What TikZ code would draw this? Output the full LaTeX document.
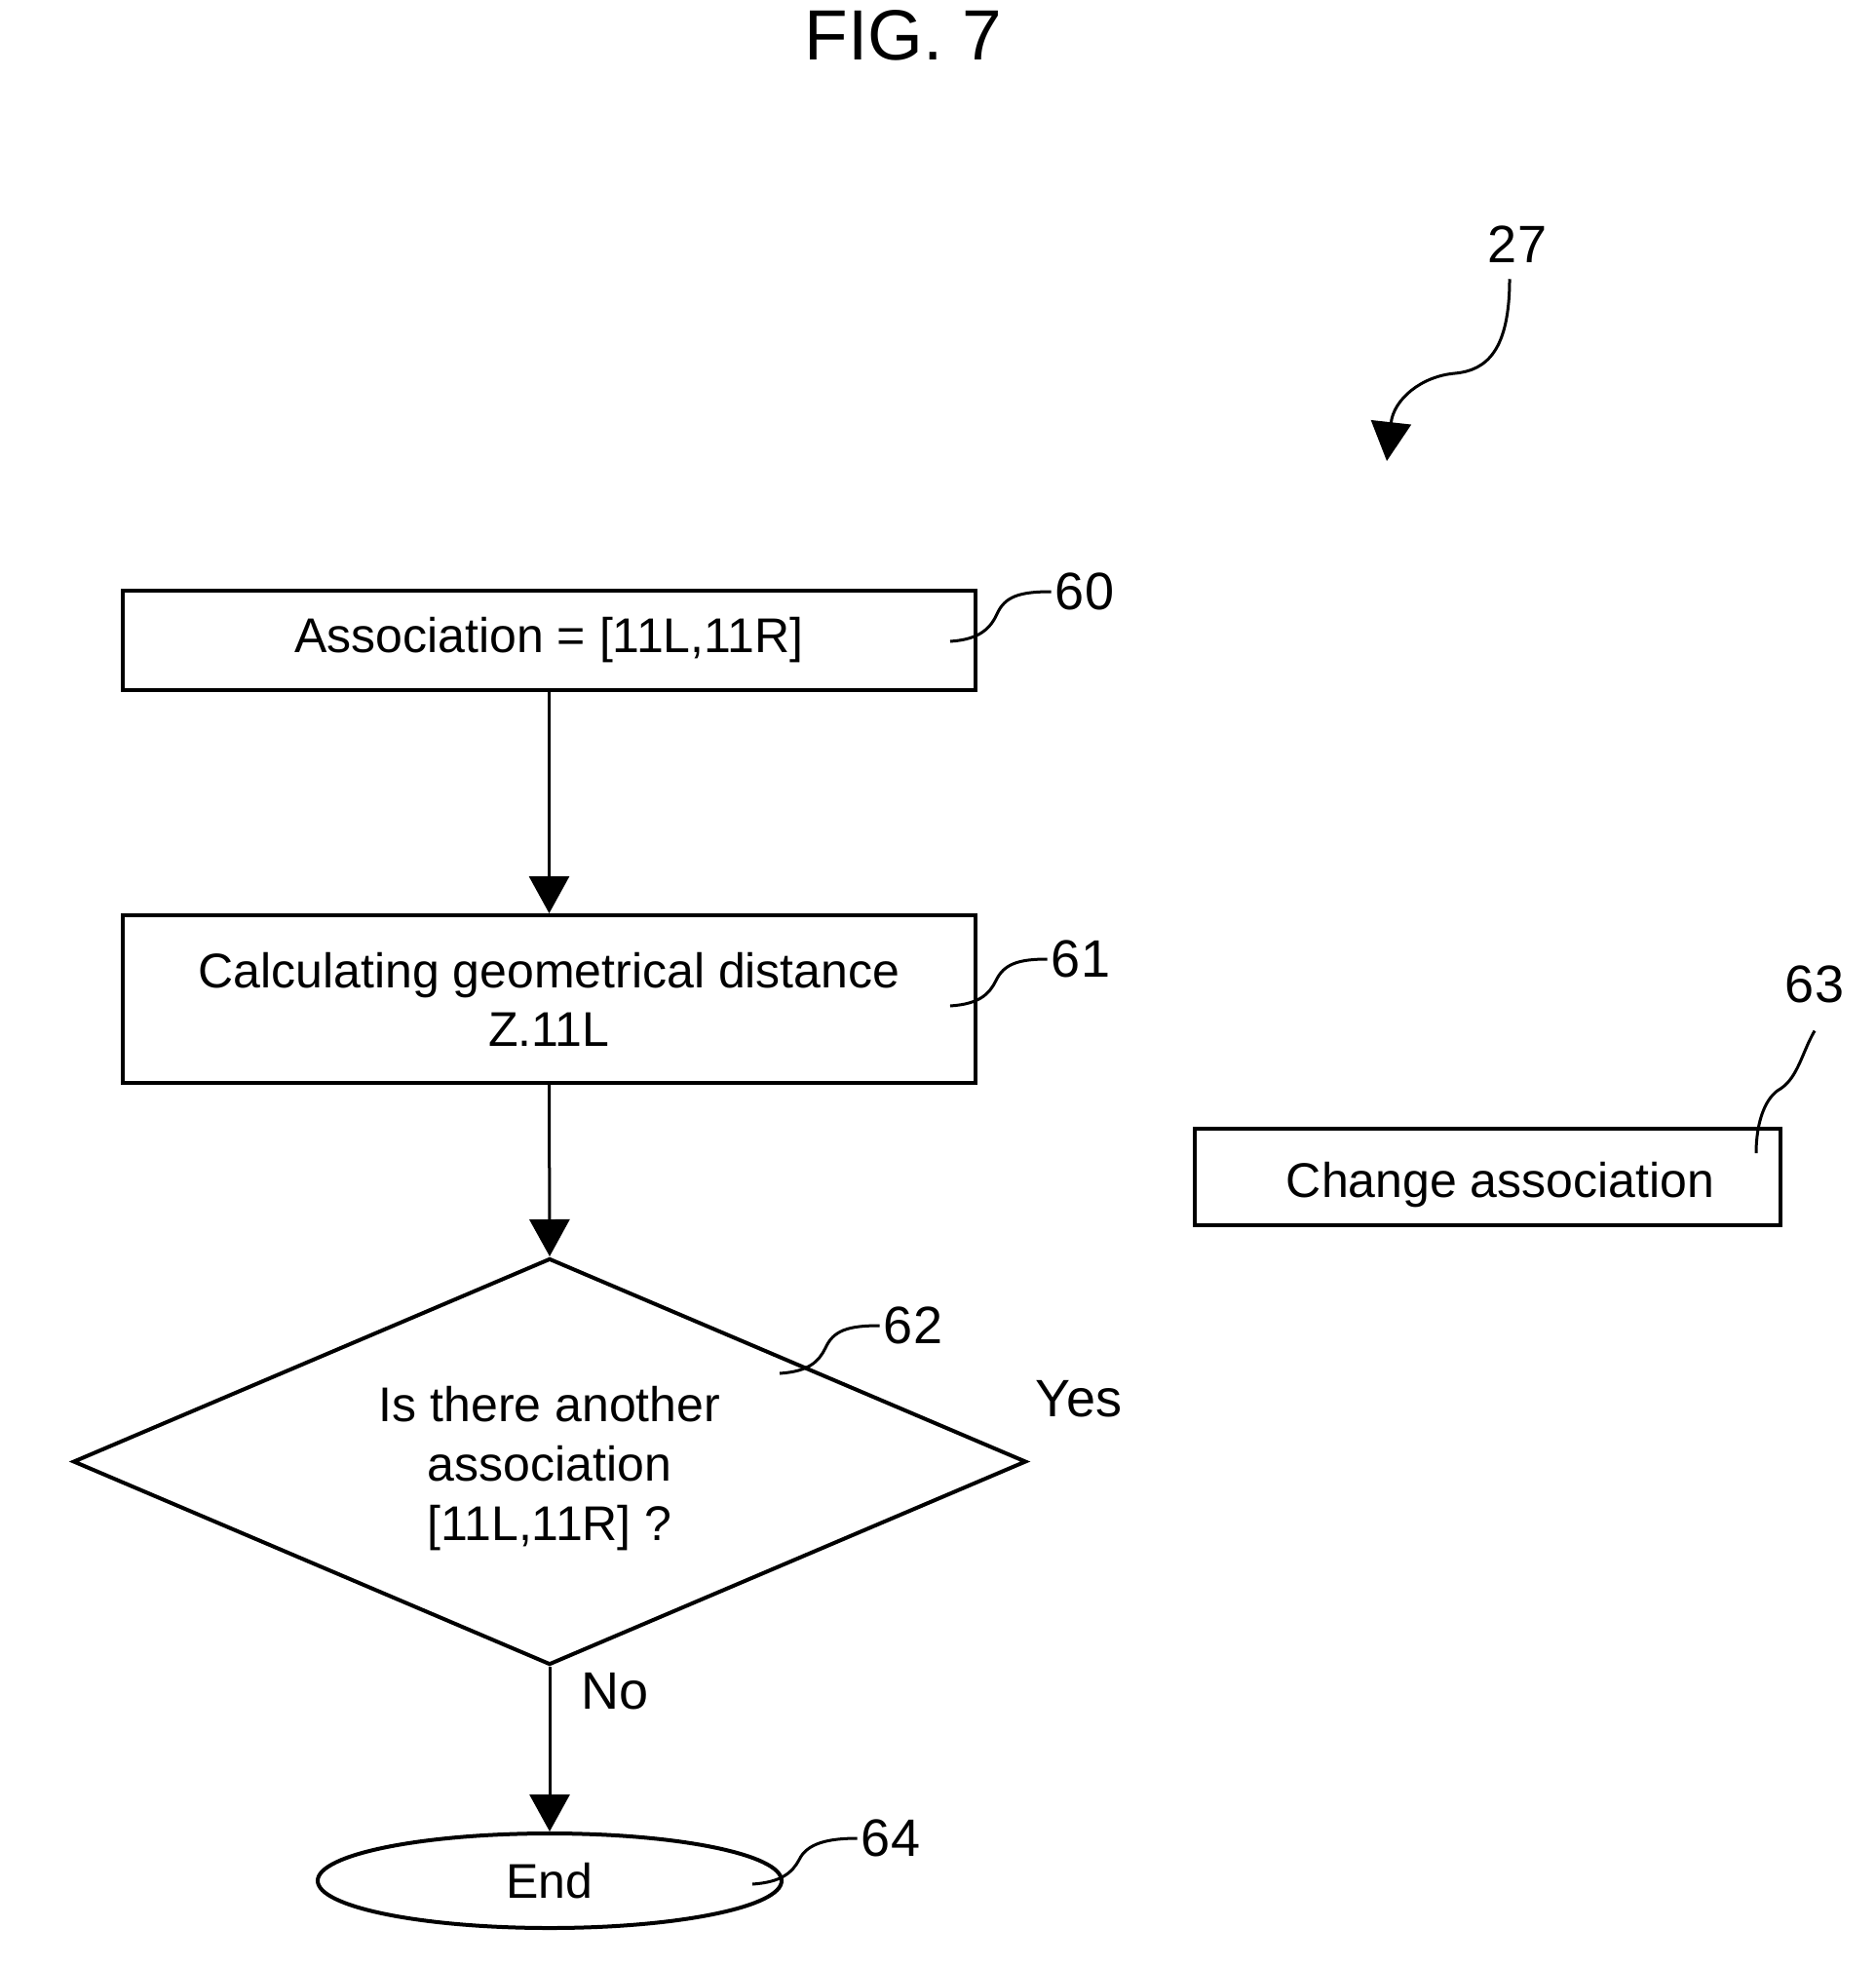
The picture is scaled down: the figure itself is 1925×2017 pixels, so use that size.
\documentclass[tikz,border=0pt]{standalone}
\usepackage{fontspec}
\setmainfont{Liberation Sans}
\usetikzlibrary{arrows.meta,shapes.geometric}
\begin{document}
\begin{tikzpicture}[x=0.5pt,y=-0.5pt,
  box/.style={draw,line width=2pt,inner sep=0pt,font=\fontsize{25}{30}\selectfont,align=center},
  btext/.style={inner sep=0pt,font=\fontsize{25}{30.5}\selectfont,align=center},
  lab/.style={inner sep=2pt,font=\fontsize{27}{32}\selectfont},
  flow/.style={line width=1.5pt,-{Triangle[width=20.5pt,length=19pt]}},
  leader/.style={line width=1.5pt}]
\useasboundingbox (0,0) rectangle (1925,2017);
\node[font=\fontsize{36.5}{40}\selectfont] (title) at (927,36) {FIG. 7};
% reference 27
\node[lab] (lab27) at (1557,251) {27};
\coordinate (tip27) at (1423,473);
\draw[line width=1.5pt,-{Triangle[width=20.5pt,length=20pt]}] ([yshift=-6pt]lab27.south -| 1549,0) .. controls (1549,360) and (1525,380) .. (1493,383) .. controls (1458,386) and (1430,410) .. (tip27);
% boxes
\node[box,minimum width=437.5pt,minimum height=51pt] (b60) at (563.5,657) {Association = [11L,11R]};
\node[box,minimum width=437.5pt,minimum height=86pt] (b61) at (563.5,1025) {Calculating geometrical distance\\Z.11L};
\node[box,diamond,aspect=2.345,minimum width=489pt,minimum height=208.5pt] (d62) at (564,1499.5) {};
\node[btext] (d62t) at (564,1507) {Is there another\\association\\{[}11L,11R{]} ?};
\node[box,minimum width=300.5pt,minimum height=49.5pt] (b63) at (1526.5,1207.5) {};
\node[btext] (b63t) at (1539.5,1215.5) {Change association};
\node[box,ellipse,minimum width=238pt,minimum height=48.5pt] (e64) at (564,1929.5) {End};
% flow arrows
\draw[flow] (b60.south) -- (b61.north);
\draw[flow] (b61.south) -- (d62.north);
\draw[flow] (d62.south) -- (e64.north);
\node[lab] (yes) at (1107,1435) {Yes};
\node[lab] (no) at (631,1735) {No};
% labels
\node[lab] (lab60) at (1113,607) {60};
\node[lab] (lab61) at (1109,984) {61};
\node[lab] (lab62) at (937,1360) {62};
\node[lab] (lab63) at (1862,1010) {63};
\node[lab] (lab64) at (914,1886) {64};
\draw[leader] (975,658) .. controls (1005,656) and (1016,645) .. (1023,630) .. controls (1031,612) and (1046,607) .. (lab60.west);
\draw[leader] (975,1032) .. controls (1005,1030) and (1015,1020) .. (1022,1006) .. controls (1030,989) and (1045,984) .. (lab61.west);
\draw[leader] (800,1409) .. controls (830,1407) and (840,1397) .. (847,1383) .. controls (855,1365) and (870,1360) .. (lab62.west);
\draw[leader] (772,1933) .. controls (802,1931) and (813,1921) .. (820,1908) .. controls (828,1891) and (850,1886) .. (lab64.west);
\draw[leader] (1802,1183) .. controls (1802,1150) and (1812,1125) .. (1827,1117) .. controls (1845,1105) and (1849,1080) .. ([yshift=-12pt]lab63.south);
\end{tikzpicture}
\end{document}
